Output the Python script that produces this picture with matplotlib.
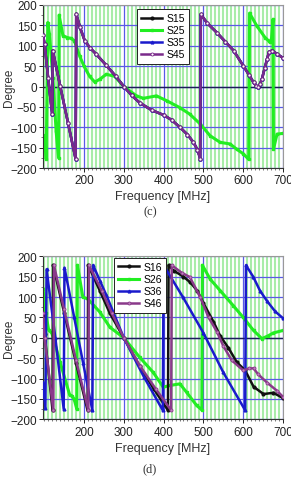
import matplotlib
matplotlib.use("Agg")
import matplotlib.pyplot as plt
from matplotlib.ticker import MultipleLocator

# ---------------- data: panel (c) ----------------
c_freq_main = [97, 101, 110, 120, 121.5, 140, 160, 179, 180.5, 190, 202, 215, 230, 256, 280, 300,
               320, 340, 370, 400, 420, 441, 460, 475, 485, 492, 493.5, 510, 534, 555, 576, 600,
               615, 626, 633, 638, 642, 647, 654, 660, 665, 672, 685, 700]
c_s15 = [127, 104, 20, -67, 88, 2, -90, -178, 178, 145, 112, 95, 80, 52, 25, 0,
         -22, -40, -58, -70, -82, -100, -118, -137, -155, -177, 177, 155, 132, 110, 88, 51,
         28, 10, 2, -2, 5, 18, 45, 67, 85, 88, 80, 70]
c_s35 = list(c_s15)
c_s45 = list(c_s15)

c_freq_s25 = [97, 100, 103, 105, 109, 113, 122, 130, 136, 137.5, 147, 158, 168, 176, 189, 200,
              214, 227, 240, 256, 277, 300, 332, 349, 382, 408, 441, 466, 492, 517, 542, 567,
              584, 600, 614, 616, 634, 655, 664, 668, 671, 675, 676, 685, 700]
c_s25 = [-120, -125, -140, -178, 157, 130, 20, -110, -175, 175, 125, 120, 118, 112, 75, 50,
         25, 11, 18, 30, 25, 0, -23, -29, -23, -35, -52, -68, -92, -121, -137, -141,
         -154, -165, -179, 180, 149, 120, 112, 108, 116, 165, -154, -117, -115]

# ---------------- data: panel (d) ----------------
d_freq_s16 = [97, 101, 121, 122.5, 150, 180, 209, 210.5, 240, 265, 300, 340, 375, 411, 412.5,
              425, 450, 467, 485, 500, 525, 542, 563, 584, 605, 626, 651, 676, 700]
d_s16 = [55, 10, -178, 178, 62, -62, -178, 178, 115, 60, 0, -70, -125, -178, 178,
         165, 150, 136, 115, 85, 40, 5, -25, -60, -80, -120, -138, -135, -148]

d_freq_s26 = [97, 104, 111, 120, 140, 164, 170, 175, 182, 183.5, 197, 210, 240, 265, 300, 340,
              374, 399, 416, 441, 458, 483, 496, 497.5, 517, 542, 575, 600, 626, 647, 663, 676, 700]
d_s26 = [120, 60, 20, 10, -60, -140, -143, -150, -175, 178, 100, 95, 63, 26, 0, -48,
         -85, -121, -117, -113, -134, -166, -177, 178, 144, 116, 79, 50, 18, -2, 5, 12, 18]

d_freq_s36 = [97, 103, 106, 128, 149, 151, 175, 198, 221, 223, 240, 256, 300, 350, 398, 400,
              449, 500, 550, 605, 607, 625, 642, 660, 680, 700]
d_s36 = [-110, -172, 168, 0, -175, 172, 52, -63, -178, 178, 140, 105, 0, -95, -178, 178,
         99, 12, -85, -178, 178, 150, 116, 90, 65, 48]

d_freq_s46 = [97, 101, 123, 124.5, 150, 180, 211, 212.5, 245, 270, 300, 340, 380, 419, 420.5,
              445, 466, 492, 513, 534, 550, 571, 600, 615, 626, 638, 660, 685, 700]
d_s46 = [60, 0, -178, 178, 70, -55, -178, 178, 115, 60, 0, -68, -125, -178, 178,
         160, 149, 100, 50, 15, -20, -55, -80, -75, -75, -90, -110, -130, -145]

x_ticks = [200, 300, 400, 500, 600, 700]
y_ticks = [-200, -150, -100, -50, 0, 50, 100, 150, 200]

# ---------------- styling ----------------
plt.rcParams['font.family'] = ['Liberation Sans', 'DejaVu Sans']
BLACK = '#111111'
GREEN = '#22ee22'
BLUE = '#1a1acc'
PURPLE = '#7a2a8a'

fig = plt.figure(figsize=(2.91, 4.85), dpi=100)
W, H = 291, 485
AX_LEFT, AX_RIGHT = 43, 283

def make_axes(top_px, bottom_px):
    return fig.add_axes([AX_LEFT / W, 1 - bottom_px / H, (AX_RIGHT - AX_LEFT) / W,
                         (bottom_px - top_px) / H])

def style(ax):
    ax.set_xlim(97, 700)
    ax.set_ylim(-200, 200)
    ax.set_xticks(x_ticks)
    ax.set_yticks(y_ticks)
    ax.xaxis.set_minor_locator(MultipleLocator(10))
    ax.yaxis.set_minor_locator(MultipleLocator(25))
    ax.grid(which='minor', axis='x', color='#a8eca8', lw=1.5, zorder=0)
    ax.grid(which='major', axis='both', color='#5a5ae6', lw=0.9, zorder=0.5)
    ax.axhline(0, color='#1c1c5a', lw=1.0, zorder=0.6)
    ax.set_axisbelow(True)
    ax.tick_params(axis='both', which='major', labelsize=8.5, length=3, width=0.7,
                   direction='out', colors='#222222', pad=1.5)
    ax.tick_params(axis='both', which='minor', length=1.5, width=0.5, direction='out',
                   colors='#444444')
    for side in ['left', 'bottom']:
        ax.spines[side].set_color('#333333')
        ax.spines[side].set_linewidth(0.8)
    for side in ['right', 'top']:
        ax.spines[side].set_color('#999999')
        ax.spines[side].set_linewidth(0.8)
    ax.set_xlabel('Frequency [MHz]', fontsize=9, color='#333333', labelpad=3)
    ax.set_ylabel('Degree', fontsize=8.5, color='#333333', va='center')
    ax.yaxis.set_label_coords((9 - AX_LEFT) / (AX_RIGHT - AX_LEFT), 0.5)

def legend(ax, anchor):
    leg = ax.legend(loc='upper left', bbox_to_anchor=anchor, borderaxespad=0, fontsize=7.5,
                    frameon=True, fancybox=False, edgecolor='#222222', framealpha=1,
                    handlelength=2.0, handletextpad=0.4, labelspacing=0.2,
                    borderpad=0.4, numpoints=1)
    leg.get_frame().set_linewidth(0.7)
    leg.set_zorder(10)

# ---------------- panel (c) ----------------
axc = make_axes(6, 169)
style(axc)
axc.plot(c_freq_main, c_s15, color=BLACK, lw=1.8, marker='o', ms=2, label='S15', zorder=3)
axc.plot(c_freq_s25, c_s25, color=GREEN, lw=2.2, marker='s', ms=2, label='S25', zorder=2)
axc.plot(c_freq_main, c_s35, color=BLUE, lw=1.8, marker='^', ms=2, label='S35', zorder=3.5)
axc.plot(c_freq_main, c_s45, color=PURPLE, lw=1.8, marker='o', ms=2.2, mfc='white',
         mec=PURPLE, mew=0.6, label='S45', zorder=4)
legend(axc, (0.392, 0.975))
fig.text(150 / W, 1 - 212 / H, '(c)', ha='center', va='center', fontsize=9,
         family=['Liberation Serif', 'DejaVu Serif'], color='#333333')

# ---------------- panel (d) ----------------
axd = make_axes(257.3, 420.3)
style(axd)
axd.plot(d_freq_s16, d_s16, color=BLACK, lw=1.8, marker='o', ms=2, label='S16', zorder=3)
axd.plot(d_freq_s26, d_s26, color=GREEN, lw=2.2, marker='s', ms=2, label='S26', zorder=2)
axd.plot(d_freq_s36, d_s36, color=BLUE, lw=1.8, marker='^', ms=2, label='S36', zorder=3.5)
axd.plot(d_freq_s46, d_s46, color='#8a3a8a', lw=1.8, marker='o', ms=2.2, mfc='#c080c0',
         mec='#8a3a8a', mew=0.6, label='S46', zorder=4)
legend(axd, (0.296, 0.99))
fig.text(150 / W, 1 - 469 / H, '(d)', ha='center', va='center', fontsize=9,
         family=['Liberation Serif', 'DejaVu Serif'], color='#333333')

fig.savefig('out.png', dpi=100)
